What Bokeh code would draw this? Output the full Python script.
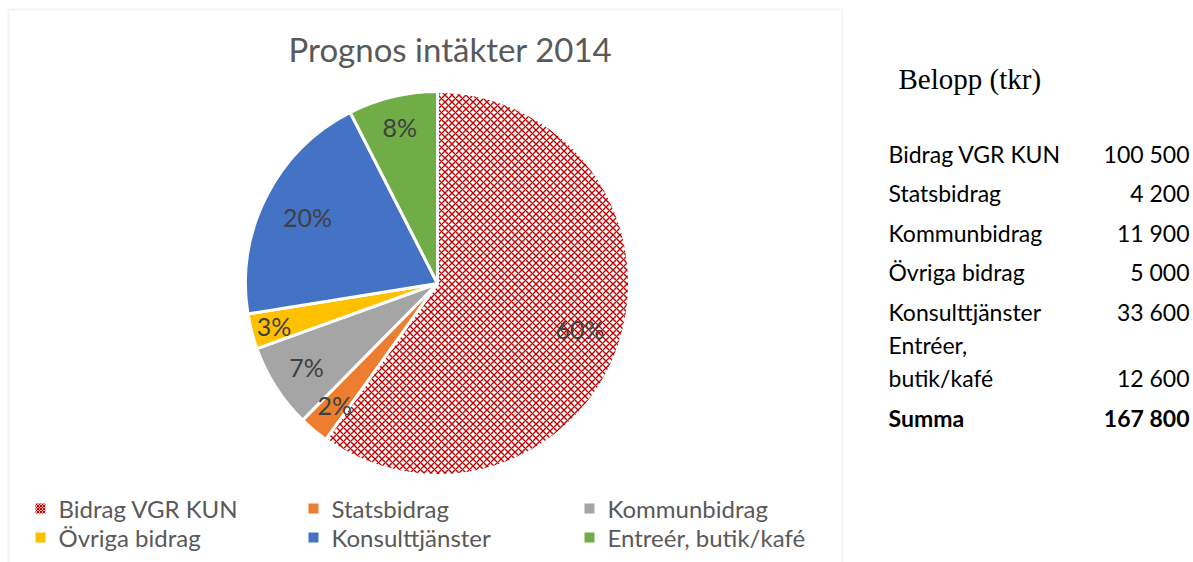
import math
from bokeh.plotting import figure
from bokeh.models import Range1d, BoxAnnotation, ColumnDataSource
from bokeh.core.properties import value
from bokeh.embed import file_html
from bokeh.resources import INLINE

# ---- data ----
title = "Prognos intäkter 2014"
categories = ["Bidrag VGR KUN", "Statsbidrag", "Kommunbidrag",
              "Övriga bidrag", "Konsulttjänster", "Entreér, butik/kafé"]
values = [100500, 4200, 11900, 5000, 33600, 12600]
pct_labels = ["60%", "2%", "7%", "3%", "20%", "8%"]
table_title = "Belopp (tkr)"
table_labels = ["Bidrag VGR KUN", "Statsbidrag", "Kommunbidrag",
                "Övriga bidrag", "Konsulttjänster", "Entréer,\nbutik/kafé"]
sum_label = "Summa"

# ---- styles ----
colors = ["#C00000", "#ED7D31", "#A5A5A5", "#FFC000", "#4472C4", "#70AD47"]
hatches = ["diagonal_cross", " ", " ", " ", " ", " "]
fills = ["white", "#ED7D31", "#A5A5A5", "#FFC000", "#4472C4", "#70AD47"]
label_frac = [0.78, 0.83, 0.81, 0.88, 0.76, 0.84]

W, H = 1193, 562
def Y(py):
    return H - py

p = figure(width=W, height=H, x_range=Range1d(0, W), y_range=Range1d(0, H),
           output_backend="svg", toolbar_location=None, min_border=0,
           background_fill_color="white", border_fill_color="white")
p.axis.visible = False
p.grid.visible = False
p.outline_line_color = None

# chart frame
p.add_layout(BoxAnnotation(left=8, right=842, top=Y(9), bottom=-20,
                           fill_alpha=0, line_color="#D9D9D9", line_width=2))

# title
p.text(x=[450], y=[Y(48)], text=[title], text_font=value("Lato"),
       text_font_size="33px", text_color="#595959",
       text_align="center", text_baseline="middle")

# pie
cx, cy, r = 437, Y(283), 192
total = sum(values)
starts, ends, mids = [], [], []
cum = 0.0
for v in values:
    a0 = math.pi / 2 - 2 * math.pi * cum / total
    cum += v
    a1 = math.pi / 2 - 2 * math.pi * cum / total
    starts.append(a0)
    ends.append(a1)
    mids.append((a0 + a1) / 2)

src = ColumnDataSource(dict(start=starts, end=ends, fill=fills, hcol=colors,
                            hatch=hatches))
p.wedge(x=cx, y=cy, radius=r, start_angle="start", end_angle="end",
        direction="clock", source=src, fill_color="fill",
        hatch_pattern="hatch", hatch_color="hcol", hatch_scale=7,
        hatch_weight=1.4, line_color="white", line_width=3)

lx = [cx + f * r * math.cos(m) for f, m in zip(label_frac, mids)]
ly = [cy + f * r * math.sin(m) for f, m in zip(label_frac, mids)]
p.text(x=lx, y=ly, text=pct_labels, text_font=value("Lato"),
       text_font_size="25px", text_color="#404040",
       text_align="center", text_baseline="middle")

# legend (manual, 3 columns x 2 rows)
col_x = [40, 313, 589]
row_y = [Y(508), Y(537)]
for i, (cat, c, fl, h) in enumerate(zip(categories, colors, fills, hatches)):
    xx = col_x[i % 3]
    yy = row_y[i // 3]
    p.rect(x=[xx], y=[yy], width=10, height=10, fill_color=fl,
           hatch_pattern=h, hatch_color=c, hatch_scale=3, hatch_weight=1.2,
           line_color=None)
    p.text(x=[xx + 18], y=[yy], text=[cat], text_font=value("Lato"),
           text_font_size="24px", text_color="#595959",
           text_align="left", text_baseline="middle")

# table on the right
p.text(x=[898], y=[Y(78)], text=[table_title],
       text_font=value("Liberation Serif"), text_font_size="29px",
       text_color="#000000", text_align="left", text_baseline="middle")

ypos = 153
for lab, v in zip(table_labels, values):
    lines = lab.split("\n")
    if len(lines) > 1:
        ypos += 33 * (len(lines) - 1) - 6
    for k, line in enumerate(lines):
        p.text(x=[888], y=[Y(ypos - 33 * (len(lines) - 1 - k))], text=[line],
               text_font=value("Lato"), text_font_size="23px",
               text_color="#000000", text_align="left", text_baseline="middle")
    p.text(x=[1189], y=[Y(ypos)], text=[f"{v:,}".replace(",", " ")],
           text_font=value("Lato"), text_font_size="23px",
           text_color="#000000", text_align="right", text_baseline="middle")
    ypos += 39.5
p.text(x=[888], y=[Y(ypos)], text=[sum_label], text_font=value("Lato"),
       text_font_size="23px", text_font_style="bold", text_color="#000000",
       text_align="left", text_baseline="middle")
p.text(x=[1189], y=[Y(ypos)], text=[f"{total:,}".replace(",", " ")],
       text_font=value("Lato"), text_font_size="23px", text_font_style="bold",
       text_color="#000000", text_align="right", text_baseline="middle")

open("out.html", "w").write(file_html(p, INLINE))
